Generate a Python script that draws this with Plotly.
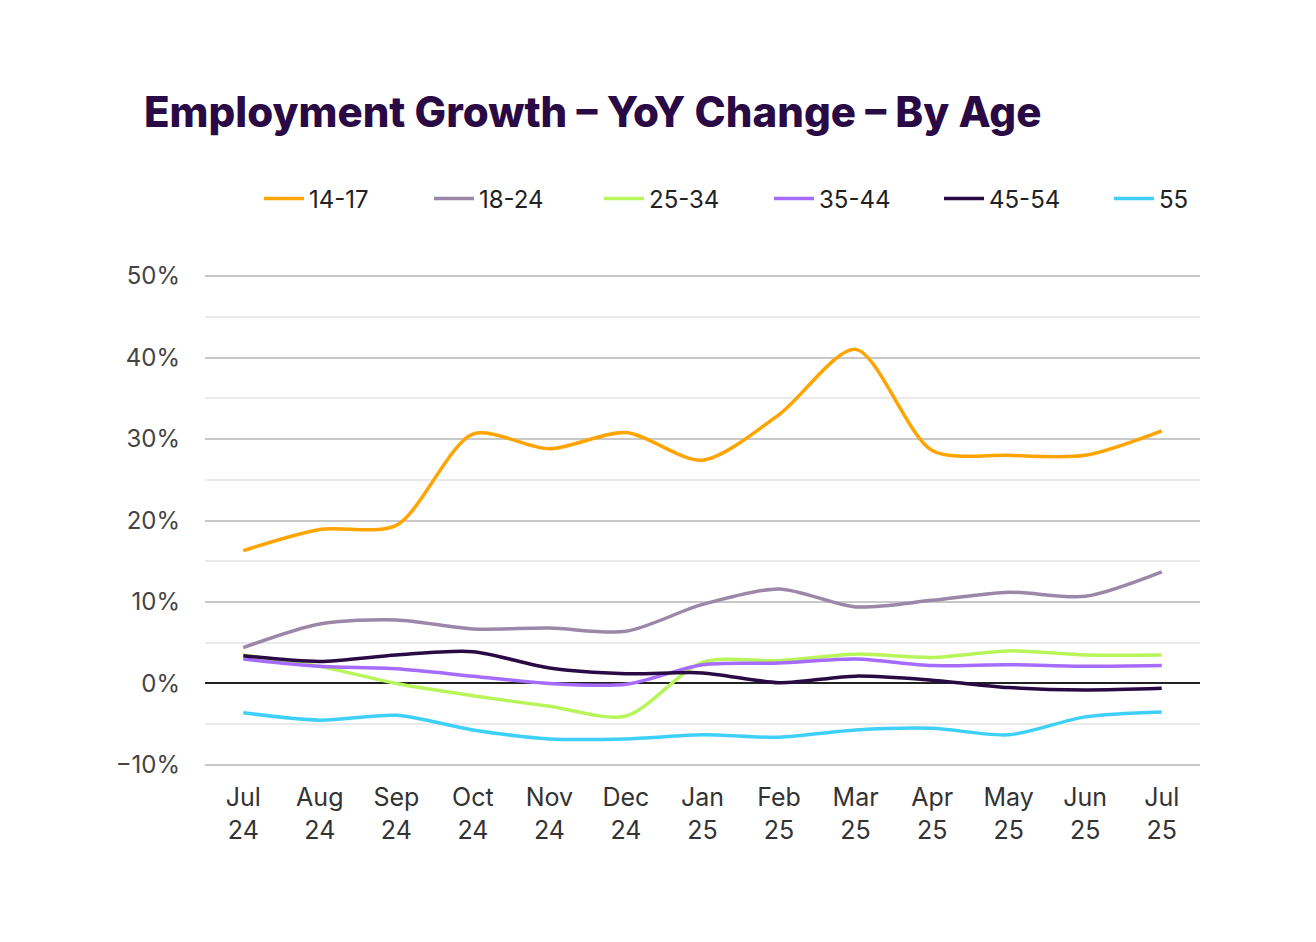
import plotly.graph_objects as go

months = ["Jul<br>24", "Aug<br>24", "Sep<br>24", "Oct<br>24", "Nov<br>24", "Dec<br>24",
          "Jan<br>25", "Feb<br>25", "Mar<br>25", "Apr<br>25", "May<br>25", "Jun<br>25", "Jul<br>25"]

age_14_17 = [16.3, 18.9, 19.4, 30.6, 28.8, 30.8, 27.4, 33.0, 41.0, 28.6, 28.0, 28.0, 31.0]
age_18_24 = [4.4, 7.3, 7.8, 6.7, 6.8, 6.4, 9.7, 11.6, 9.4, 10.2, 11.2, 10.7, 13.7]
age_25_34 = [3.5, 2.1, 0.0, -1.5, -2.8, -4.0, 2.6, 2.8, 3.6, 3.2, 4.0, 3.5, 3.5]
age_35_44 = [3.0, 2.1, 1.8, 0.9, 0.0, -0.1, 2.3, 2.5, 3.0, 2.2, 2.3, 2.1, 2.2]
age_45_54 = [3.4, 2.7, 3.5, 3.9, 1.9, 1.2, 1.3, 0.1, 0.9, 0.4, -0.5, -0.8, -0.6]
age_55 = [-3.6, -4.5, -3.9, -5.7, -6.8, -6.8, -6.3, -6.6, -5.7, -5.5, -6.3, -4.1, -3.5]

y_ticks = [-10, 0, 10, 20, 30, 40, 50]
y_tick_labels = ["−10%", "0%", "10%", "20%", "30%", "40%", "50%"]
y_minor = [-5, 5, 15, 25, 35, 45]

series = [
    ("14-17", age_14_17, "#FFA400"),
    ("18-24", age_18_24, "#9B87A8"),
    ("25-34", age_25_34, "#B8F55A"),
    ("35-44", age_35_44, "#A66BFF"),
    ("45-54", age_45_54, "#2A0A45"),
    ("55", age_55, "#3FD0FA"),
]

L, T, B, R = 197, 266, 183, 124
W, H = 1316, 942

fig = go.Figure()
legend_layouts = {}
for i, (name, vals, color) in enumerate(series):
    key = "legend" if i == 0 else f"legend{i + 1}"
    fig.add_trace(go.Scatter(
        x=months, y=vals, name=name, mode="lines", legend=key,
        line=dict(color=color, width=3.5, shape="spline", smoothing=0.8),
    ))
    legend_layouts[key] = dict(
        orientation="h", x=(251 + 170 * i) / W, xanchor="left", xref="container",
        y=1 - 191 / H, yanchor="middle", yref="container",
        font=dict(size=24, color="#222222"), itemwidth=40,
        bgcolor="rgba(0,0,0,0)",
    )

fig.update_layout(
    width=W, height=H,
    paper_bgcolor="white", plot_bgcolor="white",
    margin=dict(l=L, r=R, t=T, b=B),
    font=dict(family="Inter", size=24, color="#333333"),
    title=dict(
        text="Employment Growth – YoY Change – By Age",
        x=136 / W, xanchor="left", xref="container",
        y=1 - 104 / H, yanchor="middle", yref="container",
        pad=dict(l=0, r=0, t=0, b=0),
        font=dict(family="Inter", size=42, color="#2A0A45", weight=800),
    ),
    showlegend=True,
    **legend_layouts,
)

fig.update_xaxes(
    type="category", range=[-0.5, 12.5], showgrid=False, zeroline=False,
    showline=False, ticks="", tickfont=dict(size=25, color="#333333"),
    ticklabelstandoff=13, automargin=False,
)
fig.update_yaxes(
    range=[-10.25, 50.25], tickvals=y_ticks, ticktext=y_tick_labels,
    showgrid=True, gridcolor="#C8C8C8", gridwidth=1.5,
    minor=dict(tickvals=y_minor, showgrid=True, gridcolor="#EAEAEA", gridwidth=1.5),
    zeroline=True, zerolinecolor="#222222", zerolinewidth=1.5,
    showline=False, ticks="", ticklabelstandoff=24, automargin=False,
    tickfont=dict(size=24, color="#444444"),
)

fig.write_html("out.html")
